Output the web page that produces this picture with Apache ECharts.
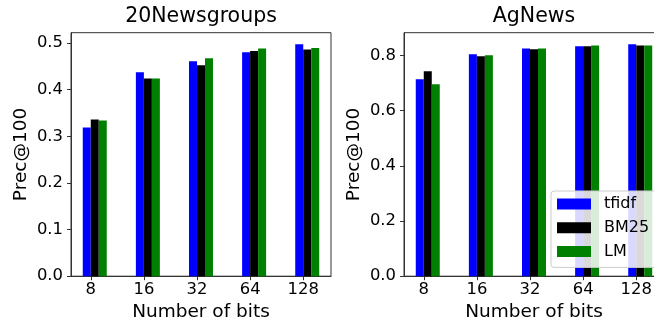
<!DOCTYPE html>
<html>
<head>
<meta charset="utf-8">
<script src="https://cdn.jsdelivr.net/npm/echarts@6/dist/echarts.min.js"></script>
<style>html,body{margin:0;padding:0;background:#fff;}#c{width:654px;height:324px;}</style>
</head>
<body>
<div id="c"></div>
<script>
// ---- data ----
const bits = ['8', '16', '32', '64', '128'];
const seriesNames = ['tfidf', 'BM25', 'LM'];
const news20_tfidf = [0.319, 0.437, 0.461, 0.480, 0.497];
const news20_bm25  = [0.336, 0.424, 0.452, 0.483, 0.486];
const news20_lm    = [0.334, 0.424, 0.467, 0.488, 0.489];
const ag_tfidf = [0.713, 0.804, 0.825, 0.833, 0.840];
const ag_bm25  = [0.742, 0.797, 0.822, 0.833, 0.836];
const ag_lm    = [0.695, 0.800, 0.825, 0.836, 0.836];
const yTicks20 = [0, 0.1, 0.2, 0.3, 0.4, 0.5];
const yTicksAg = [0, 0.2, 0.4, 0.6, 0.8];

// ---- styling / layout ----
const FONT = 'DejaVu Sans';
const colors = ['#0000ff', '#000000', '#008000'];
const groupShift = 0.075;  // bar group offset in category units
const idx = bits.map((b, i) => i);
const lineStyle = { color: '#333', width: 1 };

function xAxis(gi) {
  return {
    type: 'value', gridIndex: gi, min: -0.3725, max: 4.5225,
    splitLine: { show: false },
    axisLine: { show: true, onZero: false, lineStyle },
    axisTick: { show: true, length: 4, lineStyle, customValues: idx },
    axisLabel: { customValues: idx, formatter: v => bits[Math.round(v)], color: '#000',
                 fontFamily: FONT, fontSize: 16.4, margin: 6 },
    name: 'Number of bits', nameLocation: 'middle', nameGap: 26,
    nameTextStyle: { fontFamily: FONT, fontSize: 18.5, color: '#000' }
  };
}
function yAxis(gi, max, ticks) {
  return {
    type: 'value', gridIndex: gi, min: 0, max,
    splitLine: { show: false },
    axisLine: { show: true, onZero: false, lineStyle },
    axisTick: { show: true, length: 4, lineStyle, customValues: ticks },
    axisLabel: { customValues: ticks, formatter: v => v.toFixed(1), color: '#000', fontFamily: FONT, fontSize: 16.4, margin: 8 },
    name: 'Prec@100', nameLocation: 'middle', nameRotate: 90, nameGap: 40,
    nameTextStyle: { fontFamily: FONT, fontSize: 18.5, color: '#000' }
  };
}
function bars(name, vals, gi, ci) {
  return {
    name, type: 'bar', xAxisIndex: gi, yAxisIndex: gi,
    data: vals.map((v, i) => [i + groupShift, v]),
    barWidth: 8, barGap: '0%',
    itemStyle: { color: colors[ci] },
    emphasis: { disabled: true }
  };
}

const chart = echarts.init(document.getElementById('c'), null, { renderer: 'canvas' });
chart.setOption({
  animation: false,
  backgroundColor: '#fff',
  title: [
    { text: '20Newsgroups', left: 201, top: 6, textAlign: 'center', padding: 0,
      textStyle: { fontFamily: FONT, fontSize: 20.5, fontWeight: 'normal', color: '#000' } },
    { text: 'AgNews', left: 534, top: 6, textAlign: 'center', padding: 0,
      textStyle: { fontFamily: FONT, fontSize: 20.5, fontWeight: 'normal', color: '#000' } }
  ],
  grid: [
    { left: 71, top: 32.7, width: 260, height: 243.5, outerBoundsMode: 'none', containLabel: false,
      show: true, borderColor: '#333', borderWidth: 1, backgroundColor: 'transparent' },
    { left: 404, top: 32.7, width: 260, height: 243.5, outerBoundsMode: 'none', containLabel: false,
      show: true, borderColor: '#333', borderWidth: 1, backgroundColor: 'transparent' }
  ],
  xAxis: [xAxis(0), xAxis(1)],
  yAxis: [yAxis(0, 0.522, yTicks20), yAxis(1, 0.882, yTicksAg)],
  legend: {
    data: seriesNames, orient: 'vertical', left: 551, top: 191,
    itemWidth: 34, itemHeight: 11, itemGap: 7.7,
    padding: [5, 10, 8, 6],
    backgroundColor: 'rgba(255,255,255,0.85)', borderColor: '#ccc', borderWidth: 1, borderRadius: 3,
    textStyle: { fontFamily: FONT, fontSize: 16, color: '#000', padding: [0, 0, 0, 8] },
    icon: 'rect', selectedMode: false
  },
  series: [
    bars('tfidf', news20_tfidf, 0, 0), bars('BM25', news20_bm25, 0, 1), bars('LM', news20_lm, 0, 2),
    bars('tfidf', ag_tfidf, 1, 0), bars('BM25', ag_bm25, 1, 1), bars('LM', ag_lm, 1, 2)
  ]
});
</script>
</body>
</html>
